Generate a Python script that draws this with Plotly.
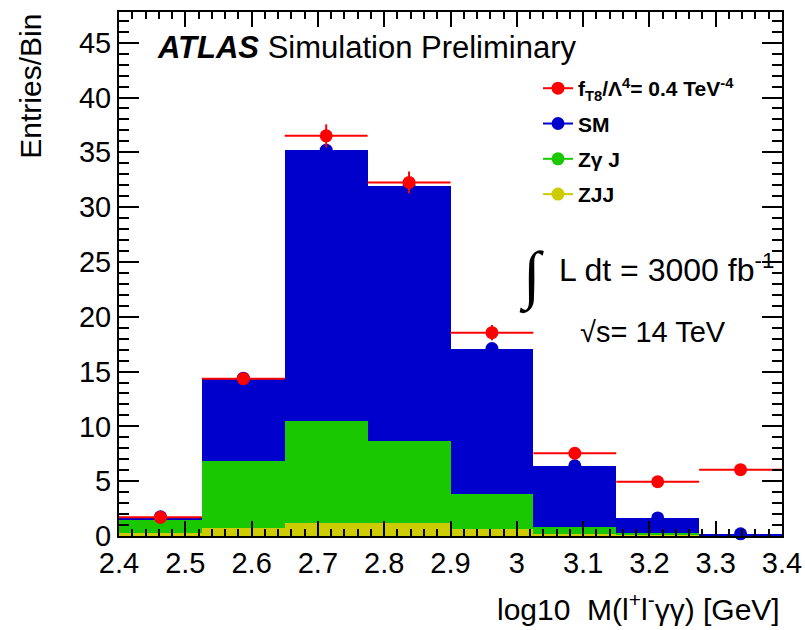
import plotly.graph_objects as go

# Binning of log10 M(l+l-yy) [GeV]
bin_lo = [2.4, 2.525, 2.65, 2.775, 2.9, 3.025, 3.15, 3.275]
bin_width = 0.125
bin_centers = [lo + bin_width / 2 for lo in bin_lo]

# Expected entries per bin for each sample (stacked)
zjj = [0.30, 0.70, 1.15, 1.15, 0.60, 0.20, 0.10, 0.04]
zgj = [1.20, 6.10, 9.30, 7.55, 3.20, 0.60, 0.20, 0.04]
sm = [0.25, 7.60, 24.75, 23.20, 13.30, 5.60, 1.35, 0.12]

# Signal hypothesis f_T8/Lambda^4 = 0.4 TeV^-4 with MC stat. uncertainty
ft8 = [1.70, 14.35, 36.50, 32.25, 18.55, 7.55, 4.95, 6.05]
ft8_err = [0.20, 0.45, 1.05, 1.00, 0.70, 0.40, 0.30, 0.30]

sm_total = [a + b + c for a, b, c in zip(zjj, zgj, sm)]

RED = "#ff0000"
BLUE = "#0000cc"
GREEN = "#19c800"
YELLOW = "#cccc00"
FONT = "Liberation Sans"

fig = go.Figure()

for vals, col in [(zjj, YELLOW), (zgj, GREEN), (sm, BLUE)]:
    fig.add_trace(go.Bar(
        x=bin_centers, y=vals, width=bin_width,
        marker=dict(color=col, line=dict(width=0)),
        showlegend=False, hoverinfo="skip",
    ))

fig.add_trace(go.Scatter(
    x=bin_centers, y=sm_total, mode="markers",
    marker=dict(color=BLUE, size=13),
    showlegend=False, cliponaxis=False,
))

fig.add_trace(go.Scatter(
    x=bin_centers, y=ft8, mode="markers",
    marker=dict(color=RED, size=13),
    error_x=dict(type="constant", value=bin_width / 2, color=RED, thickness=2, width=0),
    error_y=dict(type="data", array=ft8_err, color=RED, thickness=2, width=0),
    showlegend=False, cliponaxis=False,
))

# Legend entries (line + marker, ROOT "lp" style)
legend_items = [
    ("<b>f<sub>T8</sub>/Λ<sup>4</sup>= 0.4 TeV<sup>-4</sup></b>", RED),
    ("<b>SM</b>", BLUE),
    ("<b>Zγ J</b>", GREEN),
    ("<b>ZJJ</b>", YELLOW),
]
for i, (name, col) in enumerate(legend_items):
    fig.add_trace(go.Scatter(
        x=[None], y=[None], mode="lines+markers", name=name,
        line=dict(color=col, width=2), marker=dict(color=col, size=13),
        legendgroup=f"g{i}",
    ))

annotations = [
    dict(text="<b><i>ATLAS</i></b> Simulation Preliminary", x=0.054, y=0.933,
         xanchor="left", yanchor="middle", font=dict(size=31)),
    dict(text="∫", x=0.622, y=0.496, xanchor="center", yanchor="middle",
         font=dict(size=64, family="Liberation Serif")),
    dict(text="L dt = 3000 fb<sup>-1</sup>", x=0.661, y=0.512,
         xanchor="left", yanchor="middle", font=dict(size=32)),
    dict(text="√s= 14 TeV", x=0.692, y=0.389,
         xanchor="left", yanchor="middle", font=dict(size=29)),
    dict(text="log10&nbsp;&nbsp;M(l<sup>+</sup>l<sup>-</sup>γγ) [GeV]", x=1.0, y=-0.135,
         xanchor="right", yanchor="middle", font=dict(size=30)),
    dict(text="Entries/Bin", x=-0.134, y=1.0, textangle=-90,
         xanchor="center", yanchor="top", font=dict(size=30)),
]
for a in annotations:
    a.update(xref="paper", yref="paper", showarrow=False)
    a["font"].setdefault("family", FONT)
    a["font"]["color"] = "black"

axis_common = dict(
    showline=True, linecolor="black", linewidth=2, mirror="ticks",
    ticks="inside", tickcolor="black", tickwidth=1.5,
    showgrid=False, zeroline=False,
    tickfont=dict(family=FONT, size=29, color="black"),
)

fig.update_layout(
    width=805, height=630,
    margin=dict(l=119, r=23, t=12, b=94, autoexpand=False),
    paper_bgcolor="white", plot_bgcolor="white",
    barmode="stack", bargap=0,
    font=dict(family=FONT, color="black"),
    annotations=annotations,
    showlegend=True,
    legend=dict(x=0.632, y=0.893, xanchor="left", yanchor="top",
                bgcolor="rgba(0,0,0,0)", font=dict(size=21, family=FONT),
                traceorder="grouped", tracegroupgap=5),
    xaxis=dict(range=[2.4, 3.4], tick0=2.4, dtick=0.1, ticklen=15,
               minor=dict(dtick=0.02, ticklen=7, ticks="inside", tickcolor="black", tickwidth=1.5),
               **axis_common),
    yaxis=dict(range=[0, 47.8], tick0=0, dtick=5, ticklen=20,
               minor=dict(dtick=1, ticklen=10, ticks="inside", tickcolor="black", tickwidth=1.5),
               **axis_common),
)

fig.write_html("out.html")
